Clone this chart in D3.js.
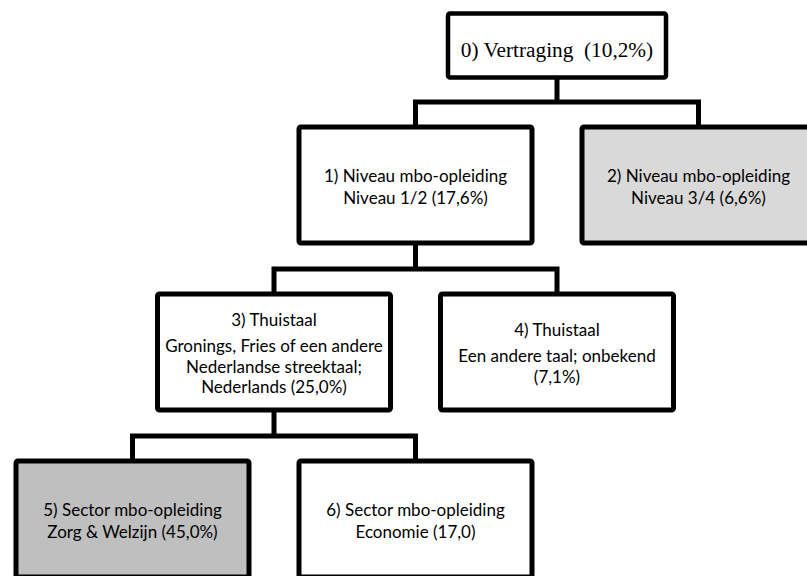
<!DOCTYPE html>
<html>
<head>
<meta charset="utf-8">
<script src="https://cdn.jsdelivr.net/npm/d3@7"></script>
<style>
  html, body { margin: 0; padding: 0; background: #ffffff; }
  svg { display: block; }
</style>
</head>
<body>
<svg id="chart" width="807" height="576"></svg>
<script>
// ---- data ----
const nodeIds   = ["0", "1", "2", "3", "4", "5", "6"];
const parentIds = [null, "0", "0", "1", "1", "3", "3"];
const titles = [
  "0) Vertraging  (10,2%)",
  "1) Niveau mbo-opleiding",
  "2) Niveau mbo-opleiding",
  "3) Thuistaal",
  "4) Thuistaal",
  "5) Sector mbo-opleiding",
  "6) Sector mbo-opleiding"
];
const details = [
  [],
  ["Niveau 1/2 (17,6%)"],
  ["Niveau 3/4 (6,6%)"],
  ["Gronings, Fries of een andere", "Nederlandse streektaal;", "Nederlands (25,0%)"],
  ["Een andere taal; onbekend", "(7,1%)"],
  ["Zorg & Welzijn (45,0%)"],
  ["Economie (17,0)"]
];
const shades = ["none", "none", "light", "none", "none", "dark", "none"];

// ---- styling / layout ----
const fillScale = d3.scaleOrdinal()
  .domain(["none", "light", "dark"])
  .range(["#ffffff", "#d9d9d9", "#bfbfbf"]);

const boxW = 238, boxH = 121;
const rootW = 223, rootH = 69, rootTop = 11;
const levelStep = 167;
const sibStep = 283;
const leftMargin = 13.5;
const sw = 5;

const table = nodeIds.map((id, i) => ({
  id, parent: parentIds[i], title: titles[i], details: details[i], shade: shades[i]
}));

const root = d3.stratify().id(d => d.id).parentId(d => d.parent)(table);
d3.tree().nodeSize([sibStep, levelStep]).separation(() => 1)(root);

const nodes = root.descendants();
const minX = d3.min(nodes, d => d.x);
const shift = leftMargin + boxW / 2 - minX;

function geom(d) {
  const cx = d.x + shift;
  if (d.depth === 0) {
    return { cx, x: cx - rootW / 2, y: rootTop, w: rootW, h: rootH };
  }
  const top = d.y - 42.5;
  return { cx, x: cx - boxW / 2, y: top, w: boxW, h: boxH };
}

const svg = d3.select("#chart");

// connectors
const gLinks = svg.append("g");
root.descendants().filter(d => d.children).forEach(p => {
  const pg = geom(p);
  const kids = p.children.map(geom);
  const hy = kids[0].y - 22.5;
  const path = d3.path();
  path.moveTo(pg.cx, pg.y + pg.h - sw / 2);
  path.lineTo(pg.cx, hy);
  gLinks.append("path").attr("d", path.toString());
  const p2 = d3.path();
  p2.moveTo(kids[0].cx, kids[0].y + sw / 2);
  p2.lineTo(kids[0].cx, hy);
  p2.lineTo(kids[kids.length - 1].cx, hy);
  p2.lineTo(kids[kids.length - 1].cx, kids[kids.length - 1].y + sw / 2);
  gLinks.append("path").attr("d", p2.toString());
});
gLinks.selectAll("path")
  .attr("fill", "none")
  .attr("stroke", "#000")
  .attr("stroke-width", sw)
  .attr("stroke-linejoin", "miter");

// boxes
const gNodes = svg.append("g");
nodes.forEach(d => {
  const g = geom(d);
  const grp = gNodes.append("g");
  grp.append("rect")
    .attr("x", g.x + sw / 2)
    .attr("y", g.y + sw / 2)
    .attr("width", g.w - sw)
    .attr("height", g.h - sw)
    .attr("rx", 2)
    .attr("fill", fillScale(d.data.shade))
    .attr("stroke", "#000")
    .attr("stroke-width", d.depth === 0 ? 4.5 : sw);

  if (d.depth === 0) {
    grp.append("text")
      .attr("x", g.cx)
      .attr("y", g.y + 46)
      .attr("text-anchor", "middle")
      .attr("font-family", "'Liberation Serif', 'Times New Roman', serif")
      .attr("font-size", 21.3)
      .attr("fill", "#000")
      .attr("xml:space", "preserve")
      .style("white-space", "pre")
      .text(d.data.title);
    return;
  }
  const lines = [d.data.title].concat(d.data.details);
  const firstGap = d.data.details.length > 1 ? 26 : 22;
  const offsets = [0];
  for (let i = 1; i < lines.length; i++) {
    offsets.push(offsets[i - 1] + (i === 1 ? firstGap : 20.5));
  }
  const H = offsets[offsets.length - 1];
  const capH = 12;
  const centerY = g.y + g.h / 2 + 1.5;
  const b0 = centerY - (H - capH) / 2;
  lines.forEach((t, i) => {
    grp.append("text")
      .attr("x", g.cx)
      .attr("y", b0 + offsets[i])
      .attr("text-anchor", "middle")
      .attr("font-family", "Lato, 'Noto Sans', sans-serif")
      .attr("font-size", 17)
      .attr("fill", "#000")
      .text(t);
  });
});
</script>
</body>
</html>
